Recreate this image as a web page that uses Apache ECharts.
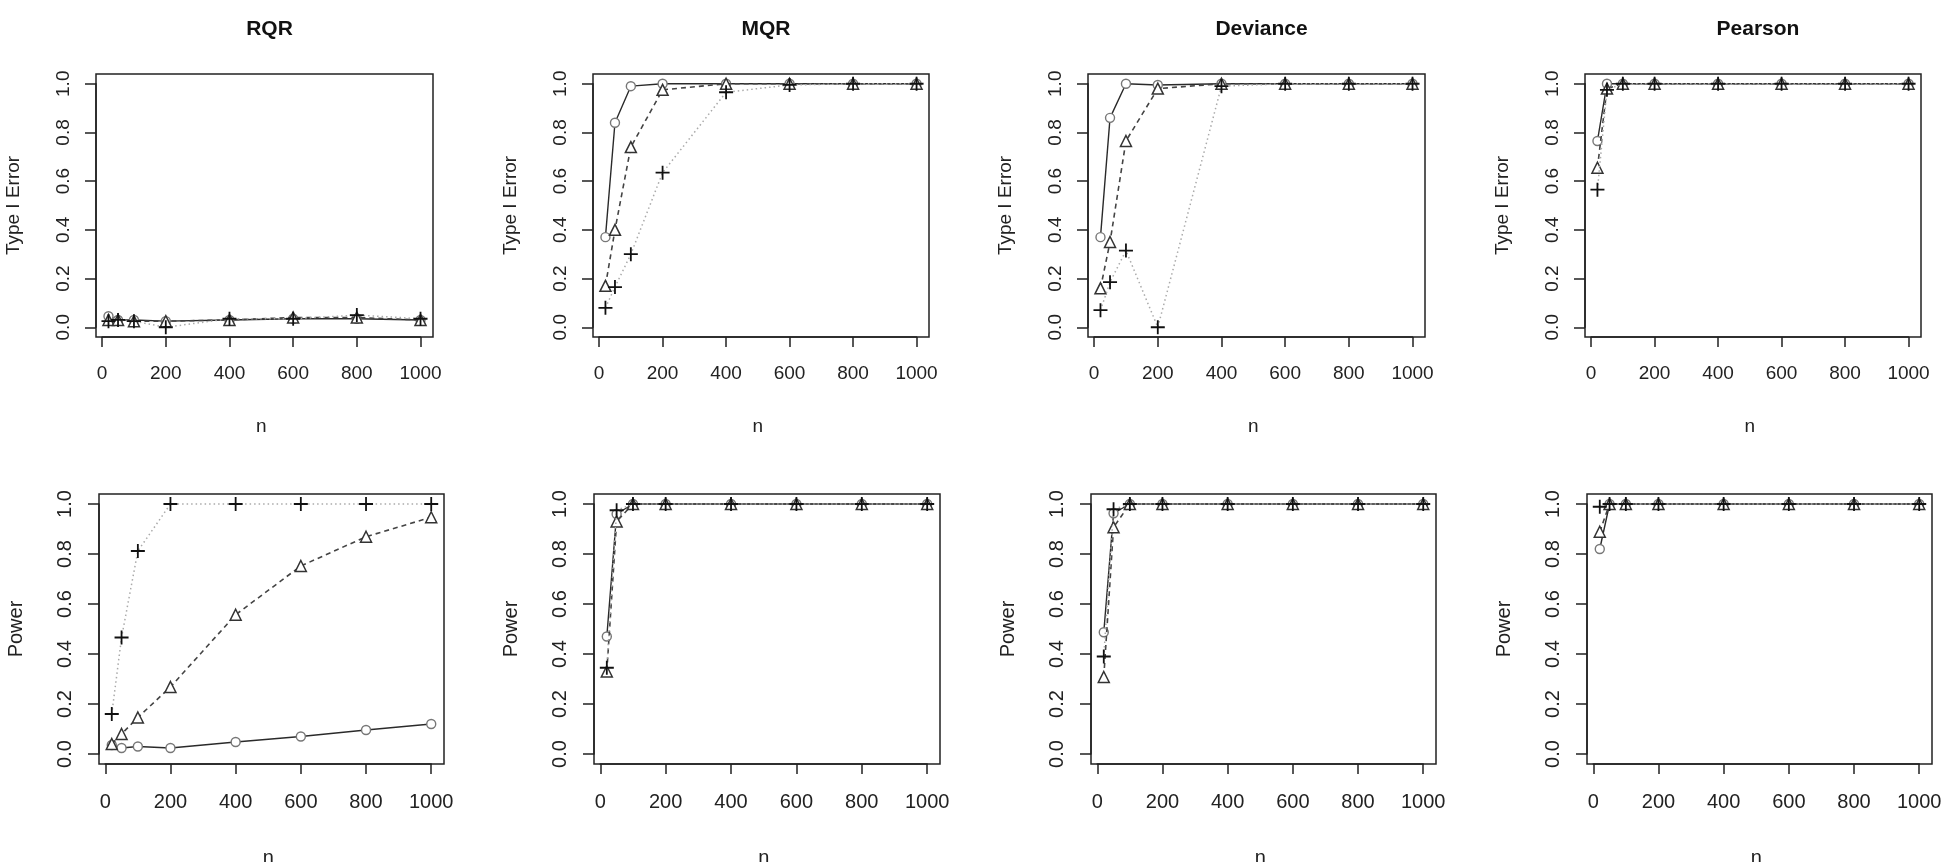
<!DOCTYPE html>
<html>
<head>
<meta charset="utf-8">
<title>RQR / MQR / Deviance / Pearson</title>
<script src="https://cdn.jsdelivr.net/npm/echarts@6/dist/echarts.min.js"></script>
<style>
  html, body { margin: 0; padding: 0; background: #fff; }
  #chart { width: 1943px; height: 862px; }
</style>
</head>
<body>
<div id="chart"></div>
<script>
// sample sizes on the x axis
var nValues = [20, 50, 100, 200, 400, 600, 800, 1000];
var panelTitles = ['RQR', 'MQR', 'Deviance', 'Pearson'];

// Type I error (top row): solid/circle, dashed/triangle, dotted/plus
var rqrType1Solid   = [0.045, 0.03, 0.03, 0.025, 0.03, 0.035, 0.035, 0.03];
var rqrType1Dashed  = [0.03, 0.03, 0.025, 0.025, 0.03, 0.04, 0.04, 0.03];
var rqrType1Dotted  = [0.025, 0.03, 0.025, 0.0, 0.035, 0.035, 0.05, 0.035];

var mqrType1Solid   = [0.37, 0.84, 0.99, 1.0, 1.0, 1.0, 1.0, 1.0];
var mqrType1Dashed  = [0.17, 0.40, 0.74, 0.975, 1.0, 1.0, 1.0, 1.0];
var mqrType1Dotted  = [0.08, 0.165, 0.30, 0.635, 0.965, 0.995, 1.0, 1.0];

var devType1Solid   = [0.37, 0.86, 1.0, 0.995, 1.0, 1.0, 1.0, 1.0];
var devType1Dashed  = [0.16, 0.35, 0.765, 0.98, 1.0, 1.0, 1.0, 1.0];
var devType1Dotted  = [0.07, 0.185, 0.315, 0.0, 0.99, 1.0, 1.0, 1.0];

var pearType1Solid  = [0.765, 1.0, 1.0, 1.0, 1.0, 1.0, 1.0, 1.0];
var pearType1Dashed = [0.655, 0.98, 1.0, 1.0, 1.0, 1.0, 1.0, 1.0];
var pearType1Dotted = [0.565, 0.975, 1.0, 1.0, 1.0, 1.0, 1.0, 1.0];

// Power (bottom row)
var rqrPowerSolid   = [0.036, 0.024, 0.03, 0.024, 0.048, 0.07, 0.096, 0.12];
var rqrPowerDashed  = [0.04, 0.08, 0.146, 0.268, 0.557, 0.752, 0.869, 0.947];
var rqrPowerDotted  = [0.16, 0.466, 0.812, 1.0, 1.0, 1.0, 1.0, 1.0];

var mqrPowerSolid   = [0.47, 0.96, 1.0, 1.0, 1.0, 1.0, 1.0, 1.0];
var mqrPowerDashed  = [0.33, 0.93, 1.0, 1.0, 1.0, 1.0, 1.0, 1.0];
var mqrPowerDotted  = [0.345, 0.975, 1.0, 1.0, 1.0, 1.0, 1.0, 1.0];

var devPowerSolid   = [0.487, 0.963, 1.0, 1.0, 1.0, 1.0, 1.0, 1.0];
var devPowerDashed  = [0.308, 0.907, 1.0, 1.0, 1.0, 1.0, 1.0, 1.0];
var devPowerDotted  = [0.39, 0.979, 1.0, 1.0, 1.0, 1.0, 1.0, 1.0];

var pearPowerSolid  = [0.82, 1.0, 1.0, 1.0, 1.0, 1.0, 1.0, 1.0];
var pearPowerDashed = [0.889, 1.0, 1.0, 1.0, 1.0, 1.0, 1.0, 1.0];
var pearPowerDotted = [0.989, 1.0, 1.0, 1.0, 1.0, 1.0, 1.0, 1.0];

var FONT = 'Liberation Sans, Arial, sans-serif';
var INK = '#222';
// R-style padded ranges (4% either side)
var X_MIN = -19.2, X_MAX = 1039.2;
var Y_MIN = -0.04, Y_MAX = 1.04;

// plot boxes in pixels
var panels = [
  { box: { left: 96,   top: 74,  width: 337, height: 263 }, yName: 'Type I Error', fs: 19, nGap: 80, data: [rqrType1Solid, rqrType1Dashed, rqrType1Dotted], title: 0 },
  { box: { left: 593,  top: 74,  width: 336, height: 263 }, yName: 'Type I Error', fs: 19, nGap: 80, data: [mqrType1Solid, mqrType1Dashed, mqrType1Dotted], title: 1 },
  { box: { left: 1088, top: 74,  width: 337, height: 263 }, yName: 'Type I Error', fs: 19, nGap: 80, data: [devType1Solid, devType1Dashed, devType1Dotted], title: 2 },
  { box: { left: 1585, top: 74,  width: 336, height: 263 }, yName: 'Type I Error', fs: 19, nGap: 80, data: [pearType1Solid, pearType1Dashed, pearType1Dotted], title: 3 },
  { box: { left: 99,   top: 494, width: 345, height: 270 }, yName: 'Power', fs: 20, nGap: 84, data: [rqrPowerSolid, rqrPowerDashed, rqrPowerDotted] },
  { box: { left: 594,  top: 494, width: 346, height: 270 }, yName: 'Power', fs: 20, nGap: 84, data: [mqrPowerSolid, mqrPowerDashed, mqrPowerDotted] },
  { box: { left: 1091, top: 494, width: 345, height: 270 }, yName: 'Power', fs: 20, nGap: 84, data: [devPowerSolid, devPowerDashed, devPowerDotted] },
  { box: { left: 1587, top: 494, width: 345, height: 270 }, yName: 'Power', fs: 20, nGap: 84, data: [pearPowerSolid, pearPowerDashed, pearPowerDotted] }
];

var PLUS = 'path://M0,6L12,6M6,0L6,12';
var styles = [
  { symbol: 'circle',   size: 9,  line: { color: '#2a2a2a', width: 1.4, type: 'solid' }, item: { color: '#fff', borderColor: '#777', borderWidth: 1.4 } },
  { symbol: 'triangle', size: 11, line: { color: '#444', width: 1.6, type: [5, 4] },     item: { color: '#fff', borderColor: '#333', borderWidth: 1.5 } },
  { symbol: PLUS,       size: 14, line: { color: '#aaa', width: 1.5, type: [1.5, 3] },   item: { color: 'transparent', borderColor: '#111', borderWidth: 1.8 } }
];

function pairs(ys) {
  return nValues.map(function (n, i) { return [n, ys[i]]; });
}

var grids = [], xAxes = [], yAxes = [], series = [], titles = [];

panels.forEach(function (p, i) {
  var b = p.box;
  var px0 = b.left + b.width * (0 - X_MIN) / (X_MAX - X_MIN);
  var px1 = b.left + b.width * (1000 - X_MIN) / (X_MAX - X_MIN);
  var py1 = b.top + b.height * (Y_MAX - 1) / (Y_MAX - Y_MIN);
  var py0 = b.top + b.height * (Y_MAX - 0) / (Y_MAX - Y_MIN);
  var g = grids.length;

  // the box that holds the lines
  grids.push({ left: b.left, top: b.top, width: b.width, height: b.height,
    show: true, borderColor: INK, borderWidth: 1.5, backgroundColor: 'transparent',
    outerBoundsMode: 'none' });
  // R-like axes that only span the tick range
  grids.push({ left: px0, top: py1, width: px1 - px0, height: py0 - py1,
    show: false, outerBoundsMode: 'none' });

  xAxes.push({ gridIndex: g, type: 'value', min: X_MIN, max: X_MAX, show: false });
  yAxes.push({ gridIndex: g, type: 'value', min: Y_MIN, max: Y_MAX, show: false });

  var lineStyle = { color: INK, width: 1.5 };
  xAxes.push({
    gridIndex: g + 1, type: 'value', min: 0, max: 1000, interval: 200,
    offset: (b.top + b.height) - py0,
    axisLine: { show: true, onZero: false, lineStyle: lineStyle },
    axisTick: { show: true, length: 10, lineStyle: lineStyle },
    splitLine: { show: false },
    axisLabel: { margin: p.fs + 8, fontSize: p.fs, color: INK, fontFamily: FONT,
      formatter: function (v) { return String(v); } },
    name: 'n', nameLocation: 'middle', nameGap: p.nGap,
    nameTextStyle: { fontSize: p.fs, color: INK, fontFamily: FONT }
  });
  yAxes.push({
    gridIndex: g + 1, type: 'value', min: 0, max: 1, interval: 0.2,
    offset: px0 - b.left,
    axisLine: { show: true, onZero: false, lineStyle: lineStyle },
    axisTick: { show: true, length: 11, lineStyle: lineStyle },
    splitLine: { show: false },
    axisLabel: { rotate: 90, margin: p.fs + 4, fontSize: p.fs, color: INK, fontFamily: FONT,
      formatter: function (v) { return v.toFixed(1); } },
    name: p.yName, nameLocation: 'middle', nameGap: 73,
    nameTextStyle: { fontSize: p.fs, color: INK, fontFamily: FONT }
  });

  p.data.forEach(function (ys, k) {
    var s = styles[k];
    series.push({
      type: 'line', xAxisIndex: g, yAxisIndex: g, data: pairs(ys),
      symbol: s.symbol, symbolSize: s.size, showSymbol: true,
      lineStyle: s.line, itemStyle: s.item, clip: false, z: 2 + k
    });
  });

  if (p.title !== undefined) {
    titles.push({ text: panelTitles[p.title], left: b.left + b.width / 2, top: 14,
      textAlign: 'center',
      textStyle: { fontSize: 21, fontWeight: 'bold', color: '#111', fontFamily: FONT } });
  }
});

var myChart = echarts.init(document.getElementById('chart'));
var option = {
  backgroundColor: '#fff',
  animation: false,
  title: titles,
  grid: grids,
  xAxis: xAxes,
  yAxis: yAxes,
  series: series
};
myChart.setOption(option);
</script>
</body>
</html>
